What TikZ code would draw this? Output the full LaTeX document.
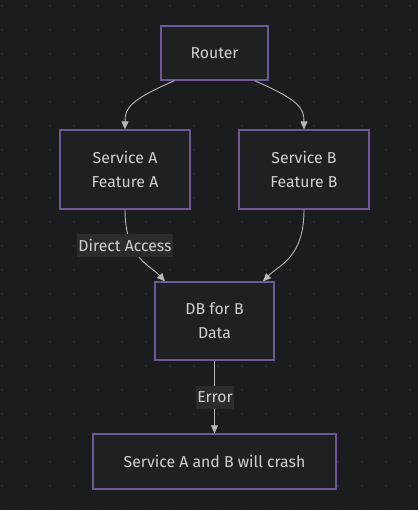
\documentclass[tikz,border=0pt]{standalone}
\usepackage{fontspec}
\setmainfont{Fira Sans}
\usetikzlibrary{arrows.meta,calc}
\definecolor{bgc}{HTML}{1B1C1E}
\definecolor{dotc}{HTML}{2C2D30}
\definecolor{nodefill}{HTML}{1F2021}
\definecolor{nodeborder}{HTML}{6B5A95}
\definecolor{txt}{HTML}{D0D0D0}
\definecolor{edgec}{HTML}{B8B8B8}
\definecolor{lblbg}{HTML}{2A2B2D}
\tikzset{
  box/.style={draw=nodeborder, line width=1.3pt, fill=nodefill, text=txt, align=center,
    font=\fontsize{15.8}{24}\selectfont, inner sep=0pt},
  conn/.style={draw=edgec, line width=0.9pt, -{Triangle[length=8pt,width=7pt]}},
  lbl/.style={fill=lblbg, text=txt, font=\fontsize{15.8}{18}\selectfont, inner sep=1pt, minimum height=23pt}
}
\begin{document}
\begin{tikzpicture}[x=1pt,y=-1pt]
\fill[bgc] (0,0) rectangle (418,510);
\useasboundingbox (0,0) rectangle (418,510);
\foreach \i in {0,...,17}{
  \foreach \j in {0,...,21}{
    \fill[dotc] (2+24*\i,6+24*\j) circle (1.2pt);
  }
}
\node[box, minimum width=107pt, minimum height=54pt] (router) at (214.5,53) {Router};
\node[box, minimum width=130pt, minimum height=79pt] (sa) at (125,169.5) {Service A\\Feature A};
\node[box, minimum width=130pt, minimum height=79pt] (sb) at (304,169.5) {Service B\\Feature B};
\node[box, minimum width=119pt, minimum height=78pt] (db) at (214.5,321) {DB for B\\Data};
\node[box, minimum width=243pt, minimum height=55pt] (crash) at (214.5,461.5) {Service A and B will crash};

\coordinate (r1) at ($(router.south)+(-40,0)$);
\coordinate (r2) at ($(router.south)+(40,0)$);
\coordinate (d1) at ($(db.north)+(-49.5,0)$);
\coordinate (d2) at ($(db.north)+(48.5,0)$);
\draw[conn] (r1) .. controls (130,100) and (125,108) .. (sa.north);
\draw[conn] (r2) .. controls (299,100) and (304,108) .. (sb.north);
\draw[conn] (sa.south) .. controls (125,258) and (150,265) .. (d1);
\draw[conn] (sb.south) .. controls (304,258) and (279,265) .. (d2);
\node[lbl] (l1) at (125,245.5) {Direct Access};
\draw[conn] (db.south) -- (crash.north);
\node[lbl] (l2) at (215,397.5) {Error};
\end{tikzpicture}
\end{document}
